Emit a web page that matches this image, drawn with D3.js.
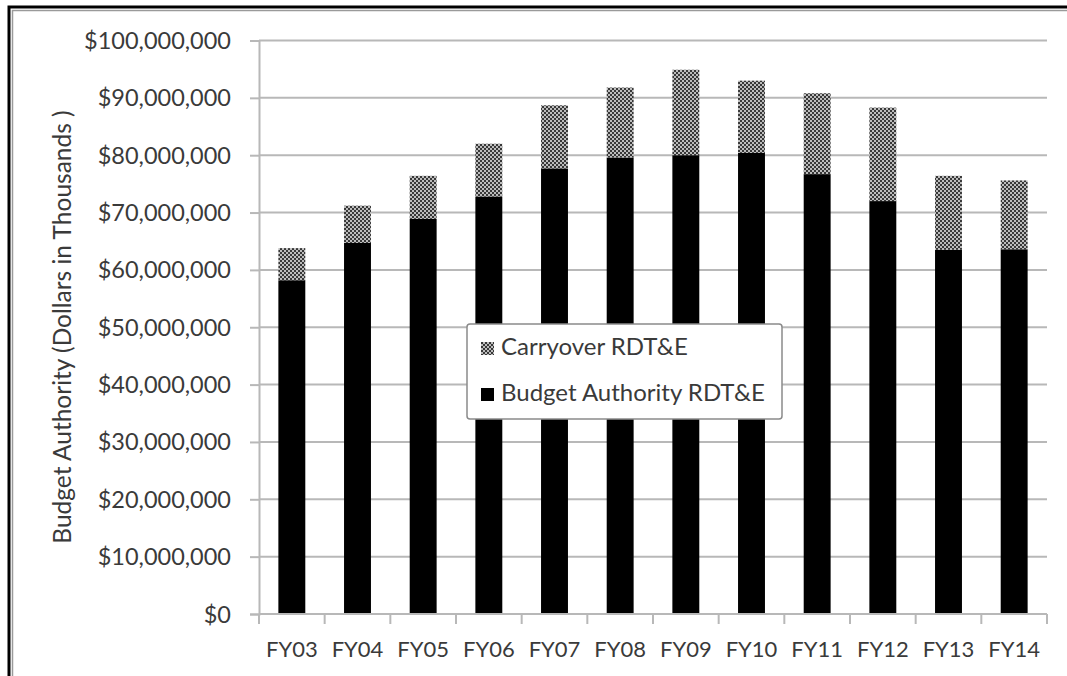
<!DOCTYPE html>
<html>
<head>
<meta charset="utf-8">
<script src="https://cdn.jsdelivr.net/npm/d3@7"></script>
<style>
  html, body { margin: 0; padding: 0; background: #fff; }
  svg { display: block; }
  text { font-family: Lato, "Open Sans", sans-serif; fill: #3a3a3a; }
</style>
</head>
<body>
<svg id="chart" width="1067" height="676"></svg>
<script>
// Fiscal years on the x axis
const years = ["FY03","FY04","FY05","FY06","FY07","FY08","FY09","FY10","FY11","FY12","FY13","FY14"];
// Budget authority RDT&E (dollars in thousands)
const budgetAuthority = [58200000, 64700000, 68900000, 72800000, 77700000, 79600000, 80000000, 80400000, 76700000, 72000000, 63500000, 63600000];
// Carryover RDT&E stacked on top (dollars in thousands)
const carryover = [5600000, 6500000, 7500000, 9200000, 11000000, 12200000, 14900000, 12600000, 14100000, 16300000, 12900000, 12000000];
// Y axis ticks
const yTicks = [0, 10000000, 20000000, 30000000, 40000000, 50000000, 60000000, 70000000, 80000000, 90000000, 100000000];
const seriesNames = ["Carryover RDT&E", "Budget Authority RDT&E"];

const svg = d3.select("#chart");

// pattern for the carryover fill
const defs = svg.append("defs");
const pat = defs.append("pattern").attr("id", "checker")
  .attr("patternUnits", "userSpaceOnUse").attr("width", 4).attr("height", 4);
pat.append("rect").attr("width", 4).attr("height", 4).attr("fill", "#bcbcbc");
pat.append("rect").attr("width", 2).attr("height", 2).attr("fill", "#383838");
pat.append("rect").attr("x", 2).attr("y", 2).attr("width", 2).attr("height", 2).attr("fill", "#383838");

// outer frame
svg.append("path").attr("d", "M9,676 V7 H1067").attr("fill", "none").attr("stroke", "#000").attr("stroke-width", 3);
svg.append("path").attr("d", "M12.5,676 V10.5 H1067").attr("fill", "none").attr("stroke", "#9a9a9a").attr("stroke-width", 1.5);

const plotLeft = 259, plotRight = 1047, plotTop = 40.5, plotBottom = 614;

const x = d3.scaleBand().domain(years).range([plotLeft, plotRight]).paddingInner(0.59).paddingOuter(0.295);
const y = d3.scaleLinear().domain([0, 100000000]).range([plotBottom, plotTop]);

// gridlines
svg.append("g").selectAll("line").data(yTicks.filter(d => d > 0)).join("line")
  .attr("x1", plotLeft).attr("x2", plotRight)
  .attr("y1", d => y(d)).attr("y2", d => y(d))
  .attr("stroke", "#b8b8b8").attr("stroke-width", 2);

// y axis
const fmt = d => "$" + d3.format(",")(d);
const yAxis = svg.append("g").attr("transform", `translate(${plotLeft},0)`)
  .call(d3.axisLeft(y).tickValues(yTicks).tickFormat(fmt).tickSize(9).tickPadding(19));
yAxis.select(".domain").attr("stroke", "#b8b8b8").attr("stroke-width", 2);
yAxis.selectAll(".tick line").attr("stroke", "#b8b8b8").attr("stroke-width", 2);
yAxis.selectAll(".tick text").attr("font-size", 23.5).attr("fill", "#3a3a3a")
  .attr("font-family", "Lato, sans-serif").attr("dy", "0.34em");

// stacked bars
const rows = years.map((yr, i) => ({ year: yr, budget: budgetAuthority[i], carry: carryover[i] }));
const stack = d3.stack().keys(["budget", "carry"])(rows);
const fills = { budget: "#000", carry: "url(#checker)" };
svg.append("g").selectAll("g").data(stack).join("g")
  .attr("fill", d => fills[d.key])
  .selectAll("rect").data(d => d).join("rect")
  .attr("x", d => x(d.data.year))
  .attr("width", x.bandwidth())
  .attr("y", d => y(d[1]))
  .attr("height", d => y(d[0]) - y(d[1]));

// x axis with tick marks at category boundaries
const xg = svg.append("g").attr("transform", `translate(0,${plotBottom})`);
xg.append("line").attr("x1", plotLeft).attr("x2", plotRight).attr("stroke", "#b8b8b8").attr("stroke-width", 2);
const step = x.step();
xg.selectAll("line.tk").data(d3.range(years.length + 1)).join("line").attr("class", "tk")
  .attr("x1", i => plotLeft + i * step).attr("x2", i => plotLeft + i * step)
  .attr("y1", 0).attr("y2", 10).attr("stroke", "#b8b8b8").attr("stroke-width", 2);
xg.selectAll("text").data(years).join("text")
  .attr("x", d => x(d) + x.bandwidth() / 2).attr("y", 43)
  .attr("text-anchor", "middle").attr("font-size", 22).text(d => d);

// y axis title
svg.append("text")
  .attr("transform", "translate(71,327) rotate(-90)")
  .attr("text-anchor", "middle").attr("font-size", 24.5)
  .text("Budget Authority (Dollars in Thousands )");

// legend
const lg = svg.append("g").attr("transform", "translate(467,324)");
lg.append("rect").attr("width", 315).attr("height", 95).attr("rx", 3)
  .attr("fill", "#fff").attr("stroke", "#8a8a8a").attr("stroke-width", 1.5);
const legendFills = ["url(#checker)", "#000"];
seriesNames.forEach((name, i) => {
  const ly = 31 + i * 46;
  lg.append("rect").attr("x", 14).attr("y", ly - 13).attr("width", 13).attr("height", 13).attr("fill", legendFills[i]);
  lg.append("text").attr("x", 34).attr("y", ly).attr("font-size", 24).text(name);
});
</script>
</body>
</html>
